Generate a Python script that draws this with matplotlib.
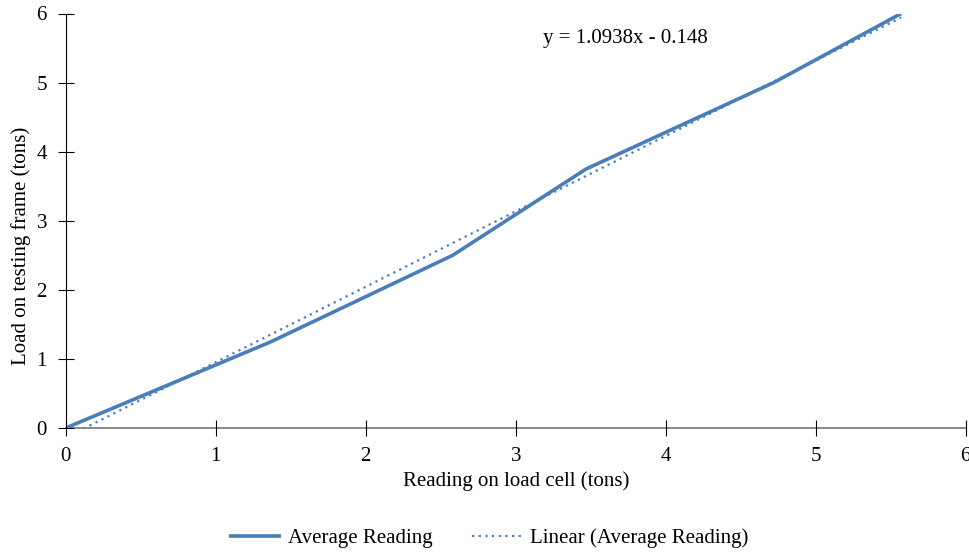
import matplotlib
matplotlib.use('Agg')
import matplotlib.pyplot as plt
import numpy as np

plt.rcParams['font.family'] = ['Liberation Serif', 'DejaVu Serif']

# readings off the load cell vs applied load (tons)
cell_reading = [0.0, 1.37, 2.58, 3.47, 4.72, 5.57]
frame_load = [0.0, 1.25, 2.5, 3.75, 5.0, 6.0]
ticks = [0, 1, 2, 3, 4, 5, 6]
eq_text = "y = 1.0938x - 0.148"

blue = '#4a7ebb'
fs = 15

fig = plt.figure(figsize=(9.7, 5.52), dpi=100)
ax = fig.add_axes([65.7 / 970, 124 / 552, 900 / 970, 414.5 / 552])

ax.plot(cell_reading, frame_load, color=blue, lw=2.6, solid_capstyle='butt',
        label='Average Reading')

# linear trendline, same as excel adds it
slope, icpt = np.polyfit(cell_reading, frame_load, 1)
xs = np.array([min(cell_reading), max(cell_reading)])
ax.plot(xs, slope * xs + icpt, color=blue, lw=1.6, ls=(0, (1, 2)),
        label='Linear (Average Reading)')

ax.text(3.18, 5.64, eq_text, fontsize=fs, va='center', ha='left')

ax.set_xlim(0, 6)
ax.set_ylim(0, 6)
ax.set_xticks(ticks)
ax.set_yticks(ticks)
ax.tick_params(direction='inout', length=11, width=0.8, labelsize=fs)
ax.tick_params(axis='x', pad=8)
ax.tick_params(axis='y', pad=8)
for s in ['top', 'right']:
    ax.spines[s].set_visible(False)
ax.spines['left'].set_color('black')
ax.spines['bottom'].set_color('#7f7f7f')
ax.spines['bottom'].set_linewidth(1.3)
ax.spines['bottom'].set_zorder(1)

ax.set_xlabel('Reading on load cell (tons)', fontsize=fs, labelpad=4)
ax.set_ylabel('Load on testing frame (tons)', fontsize=fs)
ax.yaxis.set_label_coords(-0.039, 0.44)

fig.legend(loc='center', bbox_to_anchor=(0.504, 14 / 552), ncol=2, frameon=False,
           fontsize=fs, handlelength=2.5, columnspacing=1.9, handletextpad=0.3)

fig.savefig('out.png', dpi=100)
